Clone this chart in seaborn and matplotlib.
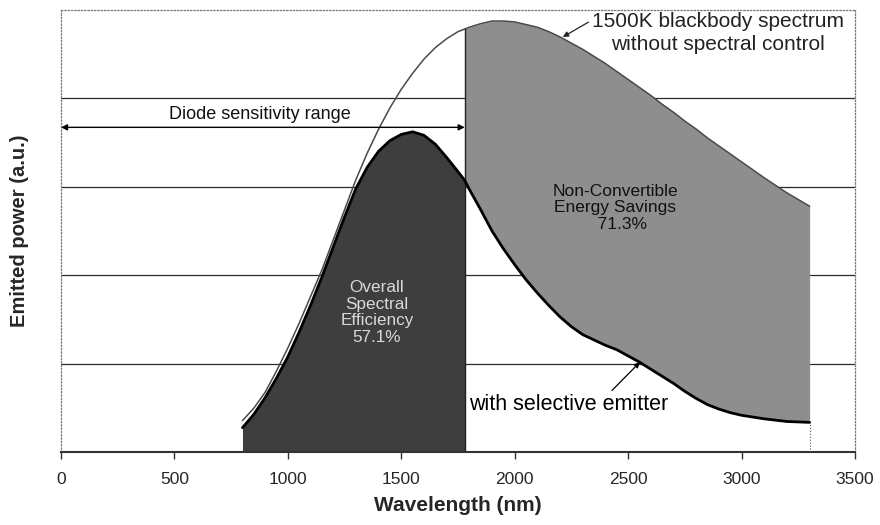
import numpy as np
import pandas as pd
import matplotlib
matplotlib.use("Agg")
import matplotlib.pyplot as plt
import seaborn as sns

# Wavelength grid (nm) and emitted power (a.u.) for the two spectra
wavelength = [800, 850, 900, 950, 1000, 1050, 1100, 1150, 1200, 1250, 1300,
              1350, 1400, 1450, 1500, 1550, 1600, 1650, 1700, 1750, 1780, 1800,
              1850, 1900, 1950, 2000, 2050, 2100, 2150, 2200, 2250, 2300, 2350,
              2400, 2450, 2500, 2550, 2600, 2650, 2700, 2750, 2800, 2850, 2900,
              2950, 3000, 3100, 3200, 3300]
blackbody = [0.36, 0.50, 0.68, 0.92, 1.18, 1.46, 1.76, 2.06, 2.40, 2.74, 3.08,
             3.38, 3.65, 3.89, 4.10, 4.28, 4.44, 4.57, 4.67, 4.75, 4.78, 4.80,
             4.84, 4.87, 4.87, 4.86, 4.83, 4.80, 4.75, 4.69, 4.62, 4.55, 4.47,
             4.39, 4.30, 4.21, 4.12, 4.03, 3.93, 3.84, 3.74, 3.65, 3.55, 3.46,
             3.37, 3.28, 3.10, 2.93, 2.78]
selective = [0.28, 0.43, 0.62, 0.84, 1.08, 1.36, 1.66, 1.98, 2.32, 2.66, 2.98,
             3.22, 3.40, 3.52, 3.59, 3.62, 3.58, 3.48, 3.33, 3.17, 3.07, 2.97,
             2.74, 2.50, 2.30, 2.12, 1.95, 1.80, 1.66, 1.53, 1.42, 1.33, 1.27,
             1.21, 1.16, 1.09, 1.02, 0.94, 0.86, 0.78, 0.69, 0.61, 0.54, 0.49,
             0.45, 0.42, 0.38, 0.35, 0.34]

diode_cutoff = 1780
x_ticks = [0, 500, 1000, 1500, 2000, 2500, 3000, 3500]
grid_levels = [1, 2, 3, 4]

df = pd.DataFrame({"wavelength": wavelength, "blackbody": blackbody,
                   "selective": selective})

sns.set_theme(style="white")
plt.rcParams["font.family"] = ["Liberation Sans", "DejaVu Sans"]

fig = plt.figure(figsize=(8.8, 5.25), dpi=100)
ax = fig.add_axes([0.0693, 0.1381, 0.9023, 0.8438])

wl = df["wavelength"].to_numpy()
bb = df["blackbody"].to_numpy()
se = df["selective"].to_numpy()
inside = wl <= diode_cutoff
outside = wl >= diode_cutoff

# Convertible part under the selective emitter curve
ax.fill_between(wl[inside], 0, se[inside], color="#3e3e3e", lw=0, zorder=2)
# Energy saved beyond the diode cut-off
ax.fill_between(wl[outside], se[outside], bb[outside], color="#8e8e8e", lw=0,
                zorder=2)

sns.lineplot(data=df, x="wavelength", y="blackbody", ax=ax, color="#4a4a4a",
             lw=1.1, zorder=3, sort=False)
sns.lineplot(data=df, x="wavelength", y="selective", ax=ax, color="black",
             lw=2.0, zorder=4, sort=False)

cut_top = bb[wl == diode_cutoff][0]
ax.plot([diode_cutoff, diode_cutoff], [0, cut_top], color="#222222", lw=1.0,
        zorder=3)
ax.plot([wl[-1], wl[-1]], [0, se[-1]], color="#555555", lw=0.8, ls=":",
        zorder=3)

ax.set_xlim(0, 3500)
ax.set_ylim(0, 5)
ax.set_xticks(x_ticks)
ax.set_xticklabels([str(t) for t in x_ticks], fontsize=12.5)
ax.set_yticks(grid_levels)
ax.set_yticklabels([])
ax.tick_params(axis="y", length=0)
ax.tick_params(axis="x", direction="out", length=5, width=1, color="#333333",
               pad=9, bottom=True)
ax.set_axisbelow(True)
ax.grid(axis="y", color="#2a2a2a", lw=0.9)
ax.grid(axis="x", visible=False)

for side in ["left", "top", "right"]:
    ax.spines[side].set_linestyle(":")
    ax.spines[side].set_color("#777777")
    ax.spines[side].set_linewidth(0.9)
ax.spines["bottom"].set_color("#333333")
ax.spines["bottom"].set_linewidth(1.5)

ax.set_xlabel("Wavelength (nm)", fontsize=15, fontweight="bold")
ax.set_ylabel("Emitted power (a.u.)", fontsize=14.5, fontweight="bold")
ax.xaxis.set_label_coords(0.5, -0.098)
ax.yaxis.set_label_coords(-0.040, 0.50)

# Diode sensitivity range arrow
ax.annotate("", xy=(0, 3.67), xytext=(diode_cutoff, 3.67),
            arrowprops=dict(arrowstyle="<|-|>", color="black", lw=1.0,
                            mutation_scale=9, shrinkA=0, shrinkB=0),
            annotation_clip=False, zorder=5)
ax.text(877, 3.82, "Diode sensitivity range", ha="center", va="center",
        fontsize=13, color="#111111", zorder=5)

ax.annotate("1500K blackbody spectrum\nwithout spectral control",
            xy=(2212, 4.69), xytext=(2895, 4.735), ha="center", va="center",
            fontsize=15, color="#222222", multialignment="center",
            linespacing=1.3,
            arrowprops=dict(arrowstyle="-|>", color="#222222", lw=0.9,
                            mutation_scale=8, shrinkA=0, shrinkB=0,
                            relpos=(0.0, 0.8)),
            zorder=5)

ax.annotate("with selective emitter", xy=(2552, 1.02), xytext=(2239, 0.545),
            ha="center", va="center", fontsize=15.5, color="black",
            arrowprops=dict(arrowstyle="-|>", color="black", lw=0.9,
                            mutation_scale=8, shrinkA=0, shrinkB=0,
                            relpos=(0.7, 1.0)),
            zorder=5)

ax.text(1393, 1.58, "Overall\nSpectral\nEfficiency\n57.1%", ha="center",
        va="center", fontsize=12.3, color="#d9d9d9", linespacing=1.15,
        zorder=5)
ax.text(2442, 2.76, "Non-Convertible\nEnergy Savings\n   71.3%", ha="center",
        va="center", fontsize=12.5, color="#111111", linespacing=1.15,
        zorder=5)

fig.savefig("out.png", dpi=100)
